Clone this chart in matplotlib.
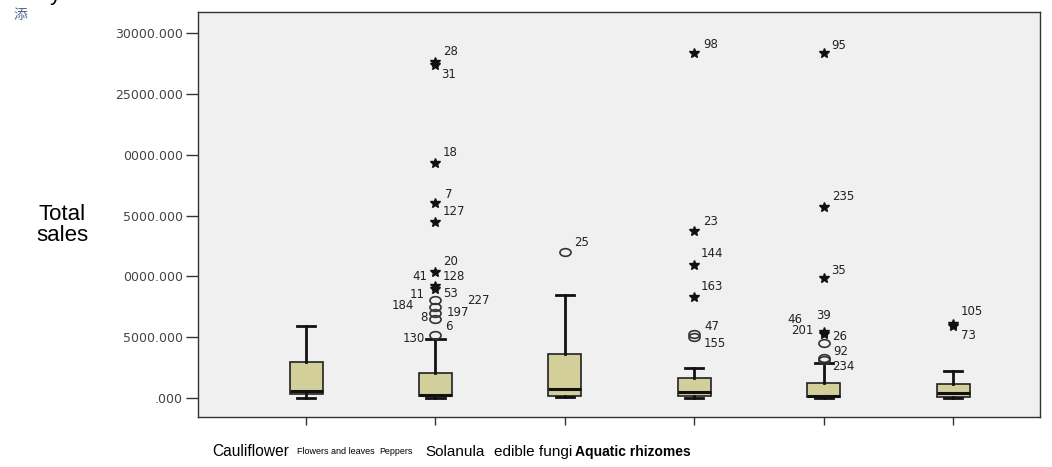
import matplotlib
matplotlib.use("Agg")
import matplotlib.pyplot as plt
from matplotlib.path import Path

# categories (box order on the axis) and box statistics
categories = ["Cauliflower", "Flowers and leaves", "Peppers",
              "Solanula", "edible fungi", "Aquatic rhizomes"]
whis_lo = [0, 0, 50, 0, 0, 0]
q1 = [300, 150, 200, 150, 50, 50]
median = [550, 250, 700, 500, 200, 400]
q3 = [2950, 2050, 3600, 1650, 1250, 1150]
whis_hi = [5900, 4850, 8450, 2450, 2900, 2200]

# outliers: box index, value, kind ('o' = outlier, '*' = extreme)
out_cat = [1, 1, 1, 1, 1, 1, 1, 1, 1, 1, 1, 1, 1,
           2,
           3, 3, 3, 3, 3, 3,
           4, 4, 4, 4, 4, 4, 4, 4,
           5, 5]
out_val = [27650, 27350, 19350, 16050, 14450, 10400, 9200, 9000, 8050, 7500, 7000, 6500, 5180,
           12000,
           28350, 13750, 10950, 8300, 5250, 5050,
           28350, 15700, 9850, 5450, 5300, 4500, 3300, 3100,
           6050, 5950]
out_kind = ["*", "*", "*", "*", "*", "*", "*", "*", "o", "o", "o", "o", "o",
            "o",
            "*", "*", "*", "*", "o", "o",
            "*", "*", "*", "*", "*", "o", "o", "o",
            "*", "*"]

# case labels next to the outliers
lab_cat = [1, 1, 1, 1, 1, 1, 1, 1, 1, 1, 1, 1, 1, 1, 1, 1,
           2,
           3, 3, 3, 3, 3, 3,
           4, 4, 4, 4, 4, 4, 4, 4, 4,
           5, 5]
lab_val = [27650, 27350, 19350, 16050, 14450, 10400, 9200, 9200, 9000, 9000,
           8050, 7500, 7000, 6500, 6500, 5180,
           12000,
           28350, 13750, 10950, 8300, 5250, 5050,
           28350, 15700, 9850, 5450, 5450, 5300, 5300, 4500, 3300,
           6050, 5950]
lab_text = ["28", "31", "18", "7", "127", "20", "128", "41", "53", "11",
            "227", "184", "197", "8", "6", "130",
            "25",
            "98", "23", "144", "163", "47", "155",
            "95", "235", "35", "39", "46", "26", "201", "92", "234",
            "105", "73"]
# label offsets in pixels (dx, dy up)
lab_dx = [15, 13, 15, 13, 18, 15, 18, -16, 15, -18,
          43, -33, 22, -12, 13, -22,
          17,
          16, 16, 18, 18, 18, 21,
          15, 20, 15, 0, -29, 16, -21, 17, 20,
          19, 15]
lab_dy = [10, -9, 10, 8, 11, 10, 10, 10, -5, -6,
          0, 1, 0, 1, -8, -3,
          10,
          9, 9, 11, 11, 8, -7,
          8, 11, 8, 16, 12, -3, 3, -8, -9,
          13, -10]

yticks = [0, 5000, 10000, 15000, 20000, 25000, 30000]
ytick_labels = [".000", "5000.000", "0000.000", "5000.000",
                "0000.000", "25000.000", "30000.000"]

W, H = 1052, 467
fig = plt.figure(figsize=(W / 100, H / 100), dpi=100)
fig.patch.set_facecolor("white")
ax = fig.add_axes([198 / W, 1 - 417 / H, (1040 - 198) / W, (417 - 12) / H])
ax.set_facecolor("#f0f0f0")

stats = []
for i in range(len(categories)):
    stats.append(dict(whislo=whis_lo[i], q1=q1[i], med=median[i],
                      q3=q3[i], whishi=whis_hi[i], fliers=[]))

positions = list(range(len(categories)))
ax.bxp(stats, positions=positions, widths=0.255, capwidths=0.14,
       patch_artist=True, showfliers=False,
       boxprops=dict(facecolor="#d3cf9b", edgecolor="#222222", linewidth=1.2),
       medianprops=dict(color="#111111", linewidth=2.2),
       whiskerprops=dict(color="#111111", linewidth=2),
       capprops=dict(color="#111111", linewidth=2))

# elliptical hollow marker for outliers
circ = Path.unit_circle()
ellipse = Path(circ.vertices * [1.45, 1.0], circ.codes)

for c, v, k in zip(out_cat, out_val, out_kind):
    if k == "o":
        ax.plot(c, v, marker=ellipse, markersize=8, markerfacecolor="none",
                markeredgecolor="#333333", markeredgewidth=1.2, linestyle="none")
    else:
        ax.plot(c, v, marker="*", markersize=7, color="#111111", linestyle="none")

for c, v, t, dx, dy in zip(lab_cat, lab_val, lab_text, lab_dx, lab_dy):
    ax.annotate(t, (c, v), xytext=(dx, dy), textcoords="offset pixels",
                ha="center", va="center", fontsize=8.5, color="#222222",
                family="DejaVu Sans")

ax.set_xlim(-0.835, 5.672)
ax.set_ylim(-1562, 31743)
ax.set_yticks(yticks)
ax.set_yticklabels(ytick_labels, fontsize=9, color="#444444", family="DejaVu Sans")
ax.set_xticks(positions)
ax.set_xticklabels([""] * len(positions))
ax.tick_params(axis="y", length=9, width=1, color="#333333", pad=2)
ax.tick_params(axis="x", length=6, width=1, color="#333333")
for s in ax.spines.values():
    s.set_color("#333333")
    s.set_linewidth(1)

# axis title
fig.text(62 / W, 1 - 225 / H, "Total\nsales", ha="center", va="center",
         fontsize=16, family="Liberation Sans", linespacing=1.05)

# category labels under the axis
cat_x = [251, 336, 396, 455, 533, 633]
cat_size = [11.2, 6.5, 6.4, 11, 11, 10]
cat_weight = ["normal", "normal", "normal", "normal", "normal", "bold"]
for name, x, fs, fw in zip(categories, cat_x, cat_size, cat_weight):
    fig.text(x / W, 1 - 452 / H, name, ha="center", va="center", fontsize=fs,
             fontweight=fw, family="Liberation Sans")

# cut-off remnants of surrounding document
fig.text(20 / W, 1 - 15 / H, "添", ha="center", va="center", fontsize=10,
         color="#4f6a8f", family=["Noto Sans CJK SC", "DejaVu Sans"])
fig.text(55 / W, 1.0, "y", ha="center", va="baseline", fontsize=16,
         family="Liberation Sans")

fig.savefig("out.png", dpi=100)
